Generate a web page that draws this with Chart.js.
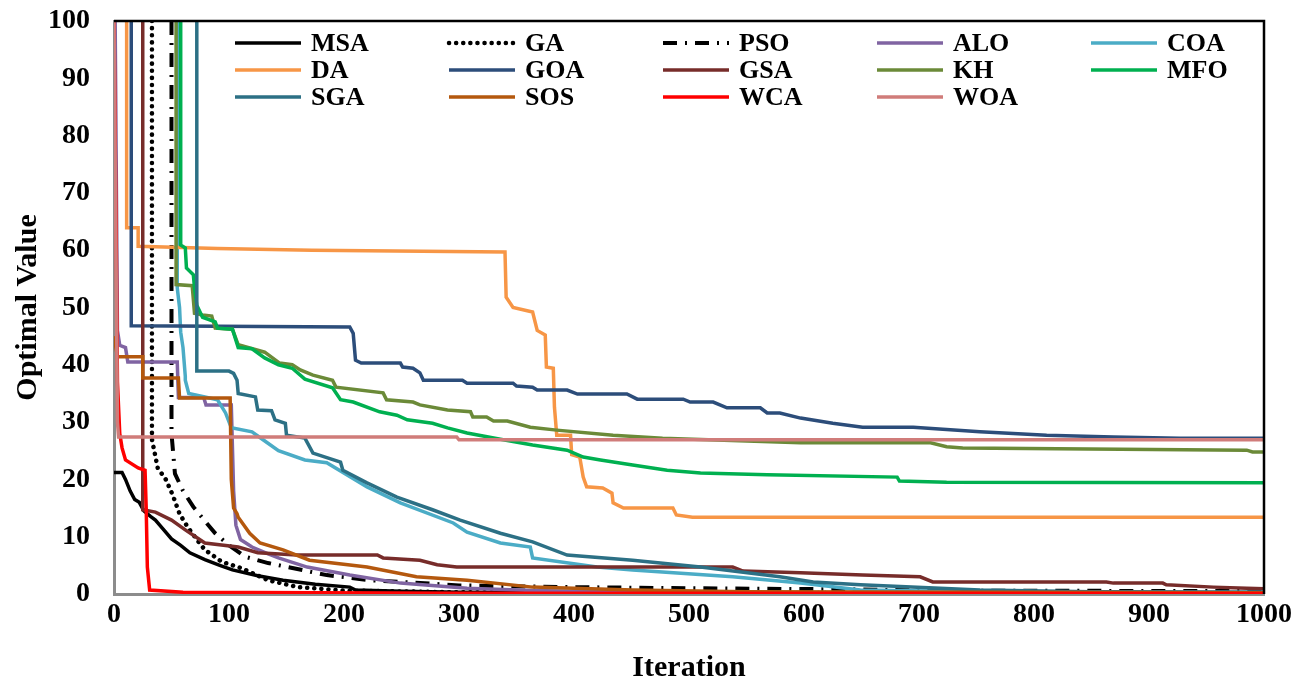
<!DOCTYPE html>
<html>
<head>
<meta charset="utf-8">
<script src="https://cdn.jsdelivr.net/npm/chart.js@4/dist/chart.umd.min.js"></script>
<style>
  body { margin: 0; background: #fff; }
  canvas { display: block; }
</style>
</head>
<body>
<canvas id="myChart" width="1308" height="687"></canvas>
<script>
// convergence curves as [iteration, value]
const MSA = [[0,21.2],[7,21.2],[10,20],[14,18],[18,16.5],[22,16],[26,14.5],[32,13.5],[36,12.9],[42,11.5],[50,9.6],[58,8.5],[66,7.2],[79,6],[92,5],[103,4.2],[125,3.2],[147,2.4],[175,1.7],[205,1.2],[210,0.7],[250,0.5],[300,0.3],[400,0.2],[1000,0.1]]
const GA = [[33,100],[33,27],[35,25],[38,22],[45,20],[51,17.3],[57,14],[64,11.7],[72,9.5],[79,7.7],[94,5.6],[111,4.5],[134,2.4],[160,1.2],[200,0.6],[300,0.3],[500,0.2],[1000,0.1]]
const PSO = [[50,100],[50,28],[53,21],[60,18],[69,15.2],[80,12.5],[88,10.6],[100,8.5],[114,6.5],[134,5.4],[151,4.7],[185,3.3],[223,2.4],[260,2],[300,1.5],[400,1.2],[500,1],[650,0.8],[700,0.6],[1000,0.5]]
const ALO = [[1,100],[3,46],[5,43.4],[10,43],[12,40.5],[55,40.5],[56,34.3],[78,34.3],[80,33],[102,33],[104,18],[106,12],[110,9.5],[120,8.2],[133,7.1],[143,6.3],[168,4.7],[205,3.3],[249,1.9],[307,1],[364,0.6],[450,0.3],[1000,0.1]]
const COA = [[55,100],[55,53.4],[57,50],[58,45.7],[60,43],[62,38],[62,37.3],[65,35],[88,34],[90,33.9],[97,31.6],[102,29],[120,28.3],[129,27],[143,25],[166,23.4],[185,22.9],[220,18.7],[249,15.9],[295,12.4],[307,10.8],[336,8.9],[362,8.2],[364,6.3],[420,4.7],[451,4.2],[538,3],[597,1.9],[649,0.7],[750,0.4],[1000,0.3]]
const DA = [[11,100],[11,63.9],[21,63.9],[21,60.7],[90,60.3],[172,60],[340,59.7],[341,51.8],[347,50],[364,49.2],[368,46],[375,45.2],[376,39.6],[382,39.4],[383,32.6],[385,27.7],[397,27.7],[398,24.3],[405,23.9],[408,20.4],[411,18.7],[425,18.5],[433,17.6],[434,15.9],[443,15],[486,15],[489,13.8],[503,13.4],[1000,13.4]]
const GOA = [[15,100],[15,46.8],[205,46.6],[208,45.5],[210,40.8],[215,40.3],[249,40.3],[251,39.6],[260,39.4],[266,38.6],[269,37.3],[303,37.3],[307,36.8],[347,36.8],[350,36.3],[364,36.1],[368,35.6],[394,35.6],[403,34.9],[446,34.9],[455,34],[495,34],[501,33.5],[521,33.5],[533,32.5],[562,32.5],[568,31.6],[579,31.6],[597,30.7],[625,29.8],[651,29.1],[695,29.1],[753,28.3],[811,27.7],[869,27.4],[927,27.2],[1000,27.2]]
const GSA = [[25,100],[25,14.7],[36,14.3],[50,12.9],[62,11.2],[79,8.9],[108,8.2],[125,7.2],[159,6.8],[229,6.8],[234,6.3],[266,5.9],[281,5.1],[298,4.7],[538,4.7],[547,4],[597,3.7],[651,3.3],[701,3],[712,2.1],[863,2.1],[869,1.9],[912,1.9],[915,1.6],[956,1.2],[985,1],[1000,0.9]]
const KH = [[54,100],[54,54],[68,53.8],[70,49],[77,48.7],[85,48.5],[88,46.4],[103,46.2],[108,43.5],[131,42.2],[144,40.3],[155,40],[162,39.1],[173,38.2],[190,37.3],[193,36.1],[234,35.1],[237,33.9],[260,33.5],[266,33],[290,32.1],[310,31.8],[312,30.9],[324,30.9],[330,30.2],[342,30.2],[362,29.1],[385,28.6],[434,27.7],[477,27.2],[597,26.4],[710,26.4],[724,25.7],[738,25.5],[985,25.1],[990,24.8],[1000,24.8]]
const MFO = [[58,100],[58,60.9],[62,60.4],[63,56.9],[69,55.7],[70,53.4],[72,50.4],[77,48.3],[88,47.5],[90,46.4],[103,46.2],[108,43],[120,42.8],[131,41.2],[143,40],[155,39.4],[166,37.5],[190,36],[197,33.9],[208,33.5],[231,31.8],[246,31.2],[255,30.4],[277,29.8],[290,29],[307,28.1],[336,27],[364,26],[394,25.1],[408,23.9],[423,23.4],[451,22.5],[481,21.6],[510,21.1],[568,20.8],[681,20.4],[683,19.7],[724,19.5],[1000,19.4]]
const SGA = [[72,100],[72,38.9],[100,38.9],[104,38.5],[107,37.3],[108,35],[123,34.4],[125,32.1],[137,32],[140,30.4],[149,29.8],[150,27.7],[166,27.2],[173,24.6],[197,23],[199,21.6],[220,19.4],[246,16.9],[277,14.7],[301,12.9],[336,10.6],[364,9.1],[394,6.8],[451,5.9],[510,4.7],[579,3],[608,2.1],[649,1.6],[753,0.7],[850,0.4],[1000,0.3]]
const SOS = [[0,45],[3,41.4],[25,41.4],[25,37.7],[56,37.7],[57,34.2],[101,34.2],[102,20],[104,15],[107,14],[108,13.4],[118,10.6],[127,8.9],[147,7.7],[170,5.9],[220,4.7],[263,3],[307,2.4],[364,1.2],[451,0.7],[550,0.4],[1000,0.2]]
const WCA = [[0,100],[2,60],[3,37],[5,28],[7,25.5],[10,23.4],[21,22],[27,21.6],[28,15],[29,4.7],[31,0.7],[60,0.3],[300,0.15],[1000,0.1]]
const WOA = [[0,100],[3,30],[4,27.4],[298,27.4],[300,26.9],[1000,26.9]]

const names = ["MSA", "GA", "PSO", "ALO", "COA", "DA", "GOA", "GSA", "KH", "MFO", "SGA", "SOS", "WCA", "WOA"]
const series = [MSA, GA, PSO, ALO, COA, DA, GOA, GSA, KH, MFO, SGA, SOS, WCA, WOA]
const colors = ["#000000", "#000000", "#000000", "#8064A2", "#4BACC6", "#F79646", "#2C4D7A", "#772C2A", "#6B8A38", "#00B050", "#2C7085", "#B4580E", "#FF0000", "#D07C7A"]
const xTicks = [0, 100, 200, 300, 400, 500, 600, 700, 800, 900, 1000]
const yTicks = [0, 10, 20, 30, 40, 50, 60, 70, 80, 90, 100]

const serif = "'Liberation Serif', 'Times New Roman', serif"

let datasets = []
for (let i = 0; i < names.length; i++) {
  let ds = {
    label: names[i],
    data: series[i].map(p => ({x: p[0], y: p[1]})),
    borderColor: colors[i],
    backgroundColor: colors[i],
    borderWidth: 3.5,
    pointRadius: 0,
    tension: 0,
    fill: false,
    order: names.length - i
  }
  if (names[i] == "GA") {
    ds.borderDash = [0.1, 7]
    ds.borderCapStyle = 'round'
    ds.borderWidth = 4.5
  }
  if (names[i] == "PSO") {
    ds.borderDash = [14, 8, 2, 8]
    ds.borderWidth = 4
  }
  datasets.push(ds)
}

// legend in 5 columns inside the plot, plus black top/right frame
const gridLegend = {
  id: 'gridLegend',
  afterDatasetsDraw(chart) {
    const ctx = chart.ctx
    const area = chart.chartArea
    ctx.save()
    ctx.strokeStyle = '#000'
    ctx.lineWidth = 2.5
    ctx.beginPath()
    ctx.moveTo(area.left, area.top)
    ctx.lineTo(area.right, area.top)
    ctx.lineTo(area.right, area.bottom)
    ctx.stroke()

    ctx.font = "bold 26px " + serif
    ctx.textBaseline = 'middle'
    ctx.textAlign = 'left'
    chart.data.datasets.forEach((ds, i) => {
      let col = i % 5
      let row = Math.floor(i / 5)
      let x0 = area.left + 121 + col * 214
      let y0 = area.top + 22 + row * 27
      ctx.strokeStyle = ds.borderColor
      ctx.lineWidth = ds.borderWidth
      ctx.lineCap = ds.borderCapStyle || 'butt'
      ctx.setLineDash(ds.borderDash || [])
      ctx.beginPath()
      ctx.moveTo(x0, y0)
      ctx.lineTo(x0 + 66, y0)
      ctx.stroke()
      ctx.setLineDash([])
      ctx.fillStyle = '#000'
      ctx.fillText(ds.label, x0 + 76, y0 + 1)
    })
    ctx.restore()
  }
}

const ctx = document.getElementById('myChart').getContext('2d')
const myChart = new Chart(ctx, {
  type: 'line',
  data: { datasets: datasets },
  options: {
    responsive: false,
    animation: false,
    layout: { padding: { top: 21, right: 44, left: 0, bottom: 0 } },
    plugins: { legend: { display: false }, tooltip: { enabled: false } },
    scales: {
      x: {
        type: 'linear',
        min: 0,
        max: 1000,
        afterFit: (scale) => { scale.height = 93 },
        afterBuildTicks: (scale) => { scale.ticks = xTicks.map(v => ({value: v})) },
        grid: { display: false, drawTicks: false },
        border: { display: true, color: '#8c8c8c', width: 3 },
        ticks: { color: '#000', padding: 4, maxRotation: 0, callback: (v) => String(v), font: { family: serif, size: 28, weight: 'bold' } },
        title: { display: true, text: 'Iteration', color: '#000', padding: { top: 0, bottom: 1 }, font: { family: serif, size: 30, weight: 'bold', lineHeight: 1.2 } }
      },
      y: {
        min: 0,
        max: 100,
        afterFit: (scale) => {
          scale.width = 114
          scale.paddingTop = 0
          scale.paddingBottom = 0
        },
        afterBuildTicks: (scale) => { scale.ticks = yTicks.map(v => ({value: v})) },
        grid: { display: false, drawTicks: false },
        border: { display: true, color: '#8c8c8c', width: 3 },
        ticks: { color: '#000', padding: 24, callback: (v) => String(v), font: { family: serif, size: 28, weight: 'bold' } },
        title: { display: true, text: 'Optimal Value', color: '#000', padding: { top: 10, bottom: 0 }, font: { family: serif, size: 30, weight: 'bold', lineHeight: 1.2 } }
      }
    }
  },
  plugins: [gridLegend]
})
</script>
</body>
</html>
